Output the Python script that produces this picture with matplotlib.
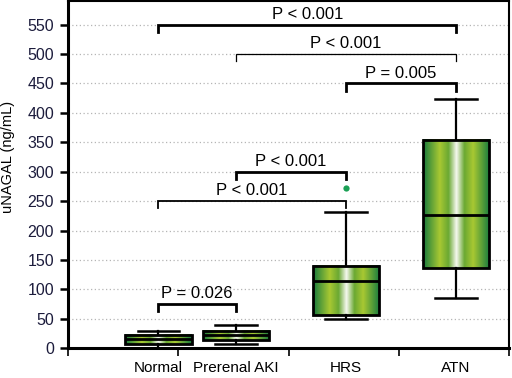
import numpy as np
import matplotlib.pyplot as plt
from matplotlib.colors import LinearSegmentedColormap

plt.rcParams['font.family'] = ['Liberation Sans Narrow', 'Liberation Sans', 'DejaVu Sans']

# ---- data ----
groups = ['Normal', 'Prerenal AKI', 'HRS', 'ATN']
positions = [1.3, 2.0, 3.0, 4.0]
whisk_lo = [1, 7.5, 49, 86]
q1 = [6.5, 13, 56, 136]
median = [16, 21.5, 115, 226]
q3 = [23, 29, 140, 354]
whisk_hi = [29, 39, 232, 424]
fliers = [[], [], [272], []]

# pairwise comparisons
comp_a = [0, 1, 2, 1, 0, 0]
comp_b = [3, 3, 3, 2, 2, 1]
comp_y = [550, 500, 450, 300, 250, 75]
comp_txt = ['P < 0.001', 'P < 0.001', 'P = 0.005', 'P < 0.001', 'P < 0.001', 'P = 0.026']
comp_lw = [2.0, 0.9, 2.0, 2.0, 1.3, 2.0]

yticks = np.arange(0, 551, 50)

fig = plt.figure(figsize=(5.12, 3.78), dpi=100)
ax = fig.add_axes([0.133, 0.079, 0.861, 0.918])

box_w = 0.6
stats = []
for i in range(len(groups)):
    stats.append({'med': median[i], 'q1': q1[i], 'q3': q3[i],
                  'whislo': whisk_lo[i], 'whishi': whisk_hi[i], 'fliers': fliers[i]})

ax.bxp(stats, positions=positions, widths=box_w, patch_artist=True,
       boxprops=dict(facecolor='none', edgecolor='black', linewidth=2.0),
       medianprops=dict(color='black', linewidth=2.0),
       whiskerprops=dict(color='black', linewidth=1.6),
       capprops=dict(color='black', linewidth=1.8),
       capwidths=0.38,
       flierprops=dict(marker='o', markerfacecolor='#1aa055', markeredgecolor='none', markersize=4.5),
       zorder=3)

# gradient fill of the boxes
cmap = LinearSegmentedColormap.from_list('grn', [
    (0.0, '#167a3e'), (0.25, '#a8c832'), (0.38, '#6aa832'), (0.5, '#f6f9f0'),
    (0.62, '#6aa832'), (0.75, '#a8c832'), (1.0, '#167a3e')])
grad = np.linspace(0, 1, 256).reshape(1, -1)
for i, p in enumerate(positions):
    ax.imshow(grad, cmap=cmap, aspect='auto', zorder=2,
              extent=[p - box_w / 2, p + box_w / 2, q1[i], q3[i]])

# significance brackets
drop = 12
for a, b, y, t, lw in zip(comp_a, comp_b, comp_y, comp_txt, comp_lw):
    xa, xb = positions[a], positions[b]
    ax.plot([xa, xa, xb, xb], [y - drop, y, y, y - drop], color='black', lw=lw,
            solid_joinstyle='miter', zorder=4)
    ax.text((xa + xb) / 2, y + 5, t, ha='center', va='bottom', fontsize=12, zorder=5)

ax.set_xlim(0.48, 4.48)
ax.set_ylim(0, 590)
ax.set_yticks(yticks)
ax.set_yticklabels([str(v) for v in yticks], fontsize=11.5, color='#1c1c3c')
ax.yaxis.grid(True, linestyle=(0, (1, 2)), color='#b5b5b5', linewidth=0.9)
ax.set_axisbelow(True)

ax.set_xticks(np.arange(0.48, 4.5, 1.0))
ax.set_xticklabels([])
ax.set_xticks(positions, minor=True)
ax.set_xticklabels(groups, minor=True, fontsize=11)
ax.tick_params(axis='x', which='minor', length=0, pad=9)
ax.tick_params(axis='x', which='major', length=6, width=1.2)
ax.tick_params(axis='y', length=6, width=1.8, pad=4)

ax.set_ylabel('uNAGAL (ng/mL)', fontsize=10.5)
ax.yaxis.set_label_coords(-0.12, 0.55)

for s in ['left', 'bottom']:
    ax.spines[s].set_linewidth(2.2)
for s in ['top', 'right']:
    ax.spines[s].set_linewidth(1.5)

fig.savefig('out.png', dpi=100)
